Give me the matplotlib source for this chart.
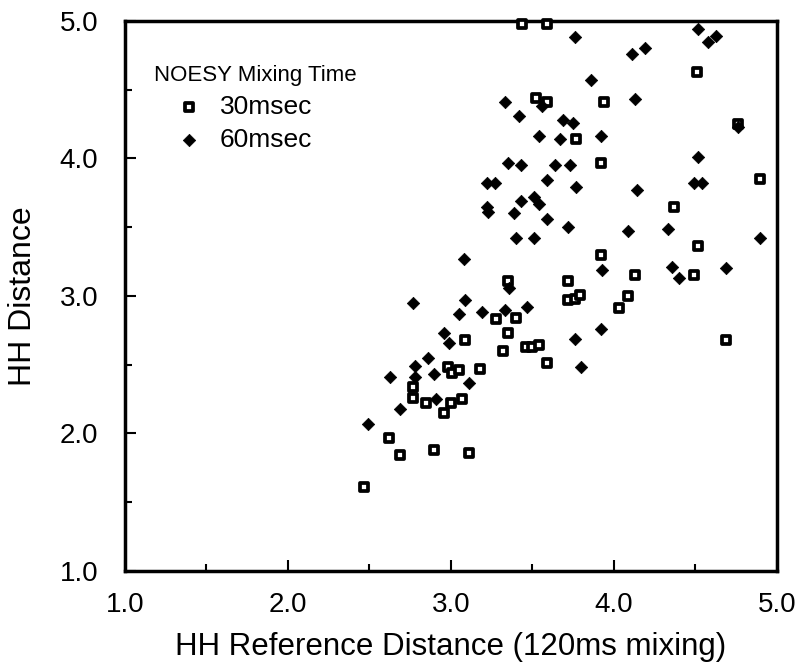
import matplotlib
matplotlib.use("Agg")
import matplotlib.pyplot as plt
from matplotlib.ticker import MultipleLocator

plt.rcParams['font.family'] = ['Liberation Sans', 'DejaVu Sans']

# 30 msec mixing time (open squares)
x30 = [3.44, 3.59, 4.51, 3.52, 3.59, 3.94, 4.76, 3.77, 3.92, 4.90,
       4.37, 4.52, 3.92, 4.13, 4.49, 3.35, 3.72, 3.72, 3.76, 3.79,
       4.09, 4.03, 3.28, 3.40, 3.35, 3.09, 4.69, 3.32, 3.46, 3.50,
       3.54, 3.59, 2.98, 3.01, 3.05, 3.18, 2.77, 2.77, 2.85, 3.00,
       2.96, 3.07, 2.62, 2.69, 2.90, 3.11, 2.47]
y30 = [4.98, 4.98, 4.63, 4.44, 4.41, 4.41, 4.25, 4.14, 3.97, 3.85,
       3.65, 3.36, 3.30, 3.15, 3.15, 3.11, 3.11, 2.97, 2.98, 3.01,
       3.00, 2.91, 2.83, 2.84, 2.73, 2.68, 2.68, 2.60, 2.63, 2.63,
       2.64, 2.51, 2.48, 2.44, 2.46, 2.47, 2.34, 2.26, 2.22, 2.22,
       2.15, 2.25, 1.97, 1.84, 1.88, 1.86, 1.61]

# 60 msec mixing time (filled diamonds)
x60 = [3.76, 4.11, 4.19, 4.52, 4.58, 4.63, 3.86, 3.33, 3.56, 4.13,
       3.42, 3.69, 3.75, 4.76, 3.54, 3.67, 3.92, 4.52, 3.35, 3.43,
       3.64, 3.73, 3.22, 3.27, 3.59, 3.77, 4.14, 4.49, 4.54, 3.43,
       3.51, 3.54, 3.22, 3.23, 3.39, 3.59, 3.72, 4.09, 4.33, 4.90,
       3.40, 3.51, 3.08, 3.93, 4.36, 4.40, 4.69, 3.36, 2.77, 3.09,
       3.05, 3.19, 3.33, 3.47, 3.92, 3.76, 2.96, 2.99, 3.80, 2.86,
       2.78, 2.90, 2.63, 2.78, 3.11, 2.91, 2.69, 2.49]
y60 = [4.88, 4.76, 4.80, 4.94, 4.85, 4.89, 4.57, 4.41, 4.38, 4.43,
       4.31, 4.28, 4.26, 4.23, 4.16, 4.14, 4.16, 4.01, 3.97, 3.95,
       3.95, 3.95, 3.82, 3.82, 3.84, 3.79, 3.77, 3.82, 3.82, 3.69,
       3.72, 3.67, 3.65, 3.61, 3.60, 3.56, 3.50, 3.47, 3.49, 3.42,
       3.42, 3.42, 3.27, 3.19, 3.21, 3.13, 3.20, 3.06, 2.95, 2.97,
       2.87, 2.88, 2.90, 2.92, 2.76, 2.69, 2.73, 2.66, 2.48, 2.55,
       2.49, 2.43, 2.41, 2.41, 2.37, 2.25, 2.18, 2.07]

ticks = [1.0, 2.0, 3.0, 4.0, 5.0]
tick_labels = ["1.0", "2.0", "3.0", "4.0", "5.0"]

fig = plt.figure(figsize=(7.95, 6.65), dpi=100)
ax = fig.add_axes([0.157, 0.1414, 0.820, 0.8271])

ax.scatter(x30, y30, marker='s', s=40, facecolor='white', edgecolor='black',
           linewidth=2.7, zorder=3, label='30msec', clip_on=False)
ax.scatter(x60, y60, marker='D', s=40, facecolor='black', edgecolor='black',
           linewidth=0.5, zorder=3, label='60msec', clip_on=False)

ax.set_xlim(1.0, 5.0)
ax.set_ylim(1.0, 5.0)
ax.set_xticks(ticks)
ax.set_xticklabels(tick_labels)
ax.set_yticks(ticks)
ax.set_yticklabels(tick_labels)
ax.xaxis.set_minor_locator(MultipleLocator(0.5))
ax.yaxis.set_minor_locator(MultipleLocator(0.5))
ax.tick_params(which='both', direction='in', top=False, right=False,
               width=1.5, labelsize=20)
ax.tick_params(axis='x', which='both', pad=15)
ax.tick_params(axis='y', which='both', pad=19)
ax.tick_params(which='major', length=8)
ax.tick_params(which='minor', length=5)
for sp in ax.spines.values():
    sp.set_linewidth(2.5)

ax.set_xlabel("HH Reference Distance (120ms mixing)", fontsize=22.5, labelpad=10)
ax.set_ylabel("HH Distance", fontsize=23, labelpad=16)

leg = ax.legend(title="NOESY Mixing Time", loc='upper left',
                bbox_to_anchor=(0.028, 0.94), frameon=False,
                fontsize=19, title_fontsize=16, alignment='left',
                handlelength=2.7, handletextpad=-0.2, labelspacing=0.35,
                borderaxespad=0)

fig.savefig("out.png", dpi=100)
